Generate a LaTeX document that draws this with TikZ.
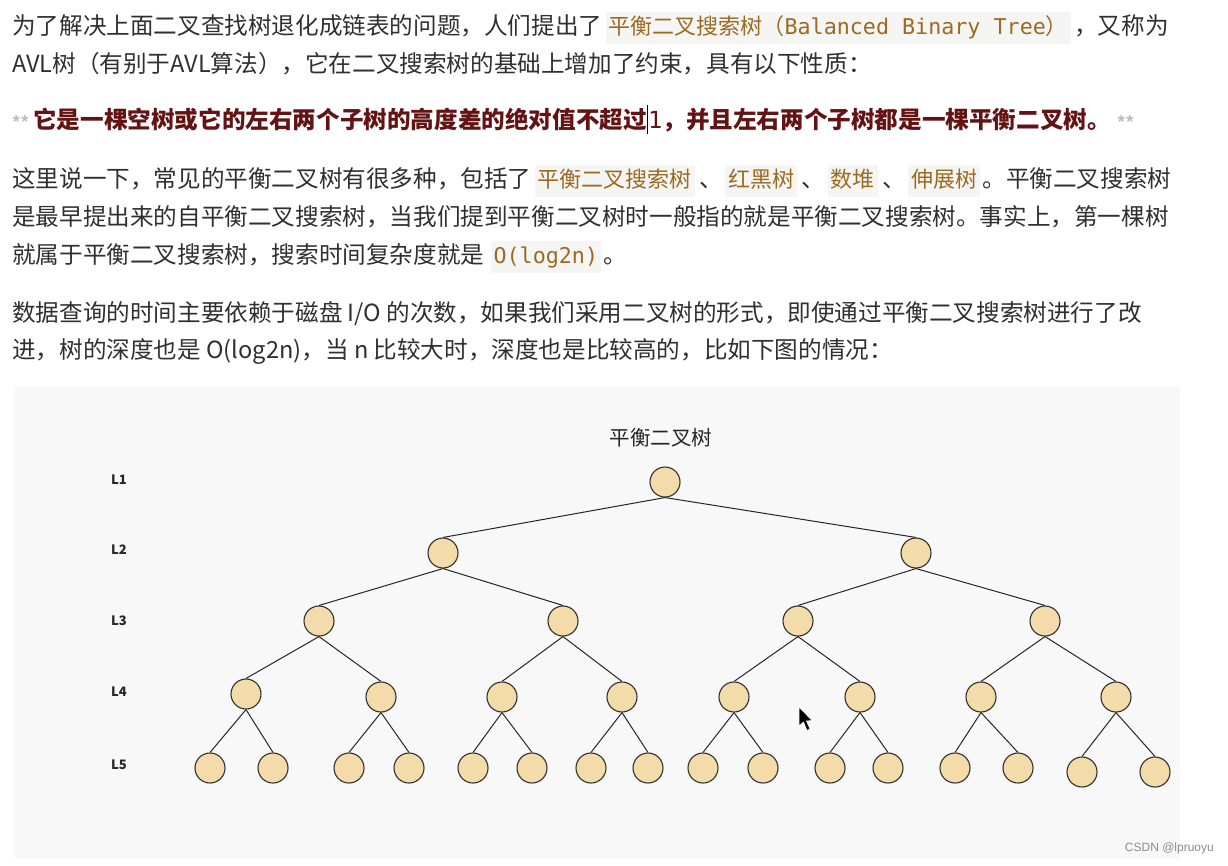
\documentclass[tikz,border=0pt]{standalone}
\usepackage{fontspec}
\setmainfont{Noto Sans CJK SC}
\newfontfamily\mono{DejaVu Sans Mono}
\newfontfamily\wm{Liberation Sans}
\definecolor{bodyc}{HTML}{303030}
\definecolor{codec}{HTML}{9C6B22}
\definecolor{codebg}{HTML}{F5F5F3}
\definecolor{boldred}{HTML}{631313}
\definecolor{figbg}{HTML}{F8F8F8}
\definecolor{nodefill}{HTML}{F4DCAA}
\definecolor{nodeline}{HTML}{303030}
\tikzset{
  body/.style={anchor=base west, inner sep=0pt, text=bodyc, font=\fontsize{23.6}{28}\selectfont},
  code/.style={anchor=base west, inner xsep=3pt, inner ysep=3pt, text height=19pt, text depth=7pt, fill=codebg, text=codec, font=\fontsize{22}{26}\selectfont},
  boldtxt/.style={anchor=base west, inner sep=0pt, text=boldred, font=\fontsize{23.6}{28}\selectfont\bfseries},
  stars/.style={anchor=base west, inner sep=0pt, text=black!25, font=\fontsize{16}{18}\selectfont\bfseries},
  lvl/.style={inner sep=0pt, text=black!85, font=\fontsize{13}{15}\selectfont\bfseries},
  tn/.style={circle, draw=nodeline, line width=1.1pt, fill=nodefill, minimum size=30pt, inner sep=0pt},
  edge/.style={draw=black!85, line width=1pt}
}
\begin{document}
\begin{tikzpicture}[x=1pt,y=-1pt]
\fill[white] (0,0) rectangle (1228,865);
\useasboundingbox (0,0) rectangle (1228,865);

% paragraph 1
\node[body] (p1a) at (12,34) {为了解决上面二叉查找树退化成链表的问题，人们提出了};
\node[code] (p1b) at ([xshift=3pt]p1a.base east) {平衡二叉搜索树（{\mono\fontsize{21.7}{26}\selectfont Balanced Binary Tree}）};
\node[body] (p1c) at ([xshift=3pt]p1b.base east) {，又称为};
\node[body] (p2a) at (12,72) {AVL树（有别于AVL算法），它在二叉搜索树的基础上增加了约束，具有以下性质：};

% bold line
\node[stars] (s1) at (12,128) {**};
\node[boldtxt] (b1) at (33,128) {它是一棵空树或它的左右两个子树的高度差的绝对值不超过};
\node[boldtxt] (b2) at ([xshift=1pt]b1.base east) {{\mono\mdseries 1}，并且左右两个子树都是一棵平衡二叉树。};
\node[stars] (s2) at ([xshift=6pt]b2.base east) {**};
\draw[black, line width=0.8pt] ([xshift=0.5pt,yshift=23pt]b1.base east) -- ([xshift=0.5pt,yshift=-6pt]b1.base east);

% paragraph 2
\node[body] (q1a) at (12,187) {这里说一下，常见的平衡二叉树有很多种，包括了};
\node[code] (q1b) at ([xshift=3pt]q1a.base east) {平衡二叉搜索树};
\node[body] (q1c) at ([xshift=4pt]q1b.base east) {、};
\node[code] (q1d) at ([xshift=2pt]q1c.base east) {红黑树};
\node[body] (q1e) at ([xshift=4pt]q1d.base east) {、};
\node[code] (q1f) at ([xshift=2pt]q1e.base east) {数堆};
\node[body] (q1g) at ([xshift=4pt]q1f.base east) {、};
\node[code] (q1h) at ([xshift=2pt]q1g.base east) {伸展树};
\node[body] (q1i) at ([xshift=2pt]q1h.base east) {。平衡二叉搜索树};
\node[body] (q2) at (12,225) {是最早提出来的自平衡二叉搜索树，当我们提到平衡二叉树时一般指的就是平衡二叉搜索树。事实上，第一棵树};
\node[body] (q3a) at (12,263) {就属于平衡二叉搜索树，搜索时间复杂度就是};
\node[code] (q3b) at ([xshift=6pt]q3a.base east) {\mono\fontsize{21.7}{26}\selectfont O(log2n)};
\node[body] (q3c) at ([xshift=2pt]q3b.base east) {。};

% paragraph 3
\node[body] (r1) at (12,321) {数据查询的时间主要依赖于磁盘 I/O 的次数，如果我们采用二叉树的形式，即使通过平衡二叉搜索树进行了改};
\node[body] (r2) at (12,358) {进，树的深度也是 O(log2n)，当 n 比较大时，深度也是比较高的，比如下图的情况：};

% figure
\fill[figbg] (14,386) rectangle (1180,858);
\node[inner sep=0pt, text=black!85, font=\fontsize{20.5}{24}\selectfont] (title) at (661,438) {平衡二叉树};
\node[lvl] (L1) at (119,480) {L1};
\node[lvl] (L2) at (119,550) {L2};
\node[lvl] (L3) at (119,621) {L3};
\node[lvl] (L4) at (119,692) {L4};
\node[lvl] (L5) at (119,765) {L5};

\node[tn] (n1) at (665,482) {};
\node[tn] (n21) at (443,553) {};
\node[tn] (n22) at (916,553) {};
\node[tn] (n31) at (319,621) {};
\node[tn] (n32) at (563,621) {};
\node[tn] (n33) at (798,621) {};
\node[tn] (n34) at (1045,621) {};
\node[tn] (n41) at (246,694) {};
\node[tn] (n42) at (381,697) {};
\node[tn] (n43) at (502,697) {};
\node[tn] (n44) at (622,697) {};
\node[tn] (n45) at (734,697) {};
\node[tn] (n46) at (860,697) {};
\node[tn] (n47) at (981,697) {};
\node[tn] (n48) at (1116,697) {};
\node[tn] (n51) at (210,768) {};
\node[tn] (n52) at (273,768) {};
\node[tn] (n53) at (349,768) {};
\node[tn] (n54) at (409,768) {};
\node[tn] (n55) at (473,768) {};
\node[tn] (n56) at (532,768) {};
\node[tn] (n57) at (591,768) {};
\node[tn] (n58) at (648,768) {};
\node[tn] (n59) at (703,768) {};
\node[tn] (n510) at (763,768) {};
\node[tn] (n511) at (830,768) {};
\node[tn] (n512) at (888,768) {};
\node[tn] (n513) at (955,768) {};
\node[tn] (n514) at (1018,768) {};
\node[tn] (n515) at (1082,772) {};
\node[tn] (n516) at (1155,772) {};

\foreach \p/\c in {n1/n21,n1/n22,n21/n31,n21/n32,n22/n33,n22/n34,
  n31/n41,n31/n42,n32/n43,n32/n44,n33/n45,n33/n46,n34/n47,n34/n48,
  n41/n51,n41/n52,n42/n53,n42/n54,n43/n55,n43/n56,n44/n57,n44/n58,
  n45/n59,n45/n510,n46/n511,n46/n512,n47/n513,n47/n514,n48/n515,n48/n516}
  \draw[edge] (\p.south) -- (\c.north);

% mouse pointer
\filldraw[fill=black, draw=white, line width=0.6pt] (799,707) -- (799,726) -- (803.5,722) -- (807,730.5) -- (810,729) -- (806.5,721) -- (812,720.5) -- cycle;

% watermark
\node[anchor=east, inner sep=0pt, text=black!45, font=\wm\fontsize{12}{14}\selectfont] (wm) at (1214,848) {CSDN @lpruoyu};
\end{tikzpicture}
\end{document}
